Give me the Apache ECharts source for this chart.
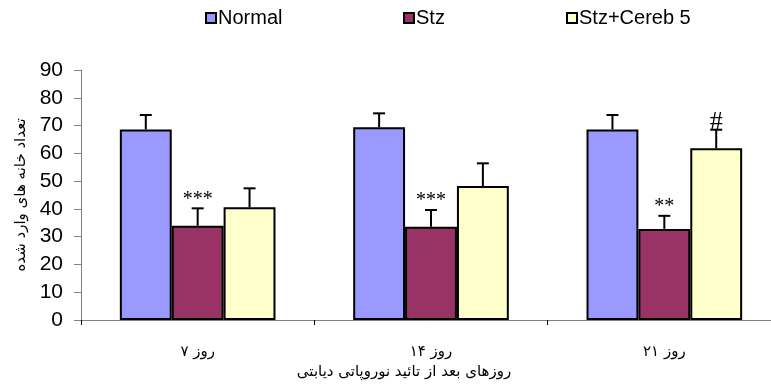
<!DOCTYPE html>
<html><head><meta charset="utf-8">
<script src="https://cdn.jsdelivr.net/npm/echarts@6/dist/echarts.min.js"></script>
<style>html,body{margin:0;padding:0;background:#fff}#c{width:771px;height:385px}</style>
</head><body><div id="c"></div>
<script>
const categories = ['روز ۷', 'روز ۱۴', 'روز ۲۱'];
const seriesNames = ['Normal', 'Stz', 'Stz+Cereb 5'];
const normalMean = [68.6, 69.4, 68.6];
const normalErr = [5.2, 5.0, 5.2];
const stzMean = [33.9, 33.6, 32.8];
const stzErr = [6.3, 6.0, 4.7];
const cerebMean = [40.6, 48.2, 61.8];
const cerebErr = [6.8, 8.2, 6.7];
const stzMarks = ['***', '***', '**'];
const cerebMarks = ['', '', '#'];
const yTicks = [0, 10, 20, 30, 40, 50, 60, 70, 80, 90];
const xTitle = 'روزهای بعد از تائید نوروپاتی دیابتی';
const yTitle = 'تعداد خانه های وارد شده';

const colors = ['#9999FF', '#993366', '#FFFFCC'];
const means = [normalMean, stzMean, cerebMean];
const errs = [normalErr, stzErr, cerebErr];
const marks = [['', '', ''], stzMarks, cerebMarks];
const CAT_GAP = 0.333;

const chart = echarts.init(document.getElementById('c'));

function errSeries(k) {
  return {
    type: 'custom',
    name: 'err' + k,
    z: 5,
    data: categories.map((c, i) => [i, means[k][i], errs[k][i]]),
    renderItem: function (params, api) {
      const ci = api.value(0), m = api.value(1), e = api.value(2);
      const mk = marks[k][ci];
      const base = api.coord([ci, m]);
      const top = api.coord([ci, m + e]);
      const band = api.size([1, 0])[0];
      const bw = band * (1 - CAT_GAP) / 3;
      const x = base[0] + (k - 1) * bw;
      const cap = 6;
      const children = [
        { type: 'line', shape: { x1: x, y1: base[1], x2: x, y2: top[1] }, style: { stroke: '#000', lineWidth: 2 } },
        { type: 'line', shape: { x1: x - cap, y1: top[1], x2: x + cap, y2: top[1] }, style: { stroke: '#000', lineWidth: 2 } }
      ];
      if (mk) {
        const isHash = mk === '#';
        children.push({
          type: 'text',
          style: {
            text: mk, x: x, y: isHash ? top[1] + 5 : top[1] + 1,
            align: 'center', verticalAlign: 'bottom',
            font: (isHash ? '26px' : '20px') + " 'Liberation Serif', serif",
            fill: '#000'
          }
        });
      }
      return { type: 'group', children: children };
    }
  };
}

const barSeries = seriesNames.map((n, k) => ({
  type: 'bar', name: n, data: means[k],
  barGap: '0%', barCategoryGap: (CAT_GAP * 100) + '%',
  itemStyle: { color: colors[k], borderColor: '#000', borderWidth: 2 },
  z: 2
}));

const legendBase = {
  top: 3, icon: 'rect', itemWidth: 10, itemHeight: 10, itemGap: 0,
  textStyle: { fontFamily: "'Liberation Sans', Arial, sans-serif", fontSize: 20, color: '#000', padding: [0, 0, 0, -3] },
  itemStyle: { borderColor: '#000', borderWidth: 2 }
};

chart.setOption({
  animation: false,
  backgroundColor: '#fff',
  legend: [
    Object.assign({}, legendBase, { data: ['Normal'], left: 200 }),
    Object.assign({}, legendBase, { data: ['Stz'], left: 398 }),
    Object.assign({}, legendBase, { data: ['Stz+Cereb 5'], left: 561 })
  ],
  grid: { left: 81, top: 70, width: 700, bottom: 65, containLabel: false, outerBoundsMode: 'none' },
  xAxis: {
    type: 'category', data: categories,
    axisLine: { lineStyle: { color: '#808080', width: 1 } },
    axisTick: { show: true, length: 5, lineStyle: { color: '#000' } },
    axisLabel: { margin: 25, fontSize: 15, color: '#000', fontFamily: "'DejaVu Sans', sans-serif", interval: 0 },
    name: xTitle, nameLocation: 'middle', nameGap: 40,
    nameTextStyle: { fontSize: 15, color: '#000', fontFamily: "'DejaVu Sans', sans-serif", padding: [0, 54, 0, 0] }
  },
  yAxis: {
    type: 'value', min: 0, max: 90, interval: 10,
    splitLine: { show: false },
    axisLine: { show: true, lineStyle: { color: '#808080', width: 1 } },
    axisTick: { show: true, length: 7, lineStyle: { color: '#808080' } },
    axisLabel: { margin: 18, fontSize: 21, color: '#000', fontFamily: "'Liberation Sans', Arial, sans-serif",
      formatter: v => yTicks.includes(v) ? String(v) : '' },
    name: yTitle, nameLocation: 'middle', nameGap: 48, nameRotate: 90,
    nameTextStyle: { fontSize: 15, color: '#000', fontFamily: "'DejaVu Sans', sans-serif" }
  },
  series: barSeries.concat([0, 1, 2].map(errSeries))
});
</script></body></html>
